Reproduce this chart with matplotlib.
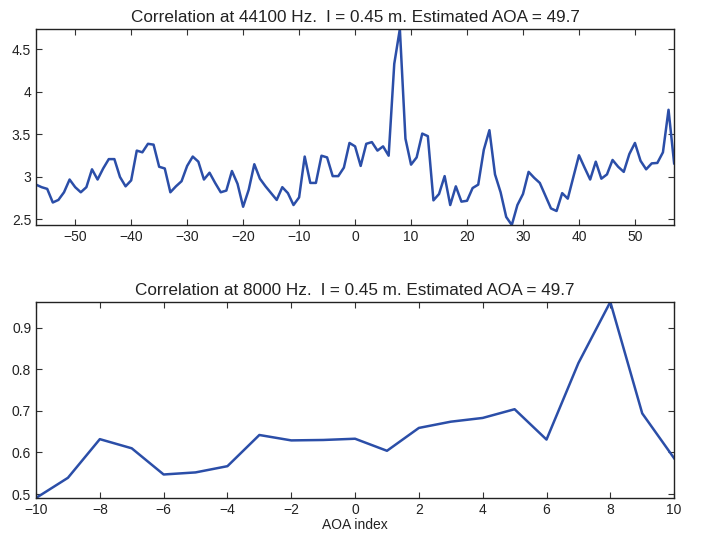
import numpy as np
import matplotlib
matplotlib.use("Agg")
import matplotlib.pyplot as plt

plt.rcParams['font.family'] = ['Liberation Sans', 'DejaVu Sans']

# top panel: correlation at 44100 Hz, one value per AOA index -57..57
aoa_hi = list(range(-57, 58))
corr_hi = [
    2.91, 2.88, 2.86, 2.70, 2.73, 2.82, 2.97, 2.88, 2.82, 2.88,   # -57..-48
    3.09, 2.97, 3.10, 3.21, 3.21, 3.00, 2.89, 2.96, 3.31, 3.29,   # -47..-38
    3.39, 3.38, 3.12, 3.10, 2.82, 2.89, 2.95, 3.13, 3.24, 3.18,   # -37..-28
    2.97, 3.05, 2.93, 2.82, 2.84, 3.07, 2.92, 2.65, 2.85, 3.15,   # -27..-18
    2.98, 2.89, 2.81, 2.73, 2.88, 2.81, 2.67, 2.76, 3.24, 2.93,   # -17..-8
    2.93, 3.25, 3.23, 3.01, 3.01, 3.11, 3.40, 3.36, 3.13, 3.39,   # -7..2
    3.41, 3.31, 3.36, 3.25, 4.33, 4.74, 3.45, 3.145, 3.23, 3.51,  # 3..12
    3.48, 2.725, 2.80, 3.01, 2.67, 2.89, 2.71, 2.72, 2.87, 2.91,  # 13..22
    3.32, 3.55, 3.03, 2.82, 2.53, 2.435, 2.67, 2.80, 3.06, 2.99,  # 23..32
    2.93, 2.78, 2.63, 2.60, 2.81, 2.745, 3.00, 3.255, 3.11, 2.97, # 33..42
    3.18, 2.98, 3.03, 3.20, 3.12, 3.06, 3.27, 3.40, 3.19, 3.09,   # 43..52
    3.16, 3.165, 3.29, 3.79, 3.16,                                # 53..57
]

# bottom panel: correlation at 8000 Hz, AOA index -10..10
aoa_lo = list(range(-10, 11))
corr_lo = [0.4905, 0.539, 0.632, 0.610, 0.547, 0.552, 0.567, 0.642, 0.629, 0.630,
           0.633, 0.604, 0.659, 0.674, 0.683, 0.704, 0.631, 0.815, 0.962, 0.694, 0.586]

title_hi = "Correlation at 44100 Hz.  l = 0.45 m. Estimated AOA = 49.7"
title_lo = "Correlation at 8000 Hz.  l = 0.45 m. Estimated AOA = 49.7"

line_col = "#2b4ea8"

fig = plt.figure(figsize=(7.02, 5.35), dpi=100)
ax1 = fig.add_axes([0.0513, 0.5794, 0.909, 0.3664])
ax2 = fig.add_axes([0.0513, 0.0692, 0.909, 0.3664])


def style(ax):
    ax.tick_params(direction='in', top=True, right=True, length=4,
                   labelsize=10, color='#333333', labelcolor='#222222')
    for s in ax.spines.values():
        s.set_color('#222222')
        s.set_linewidth(1.0)


ax1.plot(aoa_hi, corr_hi, color=line_col, lw=1.8)
ax1.set_xlim(min(aoa_hi), max(aoa_hi))
ax1.set_ylim(min(corr_hi), max(corr_hi))
ax1.set_xticks(np.arange(-50, 51, 10))
ax1.set_yticks([2.5, 3, 3.5, 4, 4.5])
ax1.set_yticklabels(["2.5", "3", "3.5", "4", "4.5"])
ax1.set_title(title_hi, fontsize=12.3, color='#222222', pad=5)
style(ax1)

ax2.plot(aoa_lo, corr_lo, color=line_col, lw=1.8)
ax2.set_xlim(min(aoa_lo), max(aoa_lo))
ax2.set_ylim(min(corr_lo), max(corr_lo))
ax2.set_xticks(np.arange(-10, 11, 2))
ax2.set_yticks([0.5, 0.6, 0.7, 0.8, 0.9])
ax2.set_title(title_lo, fontsize=12.3, color='#222222', pad=5)
ax2.set_xlabel("AOA index", fontsize=10, color='#222222', labelpad=1)
style(ax2)

fig.savefig("out.png", dpi=100)
